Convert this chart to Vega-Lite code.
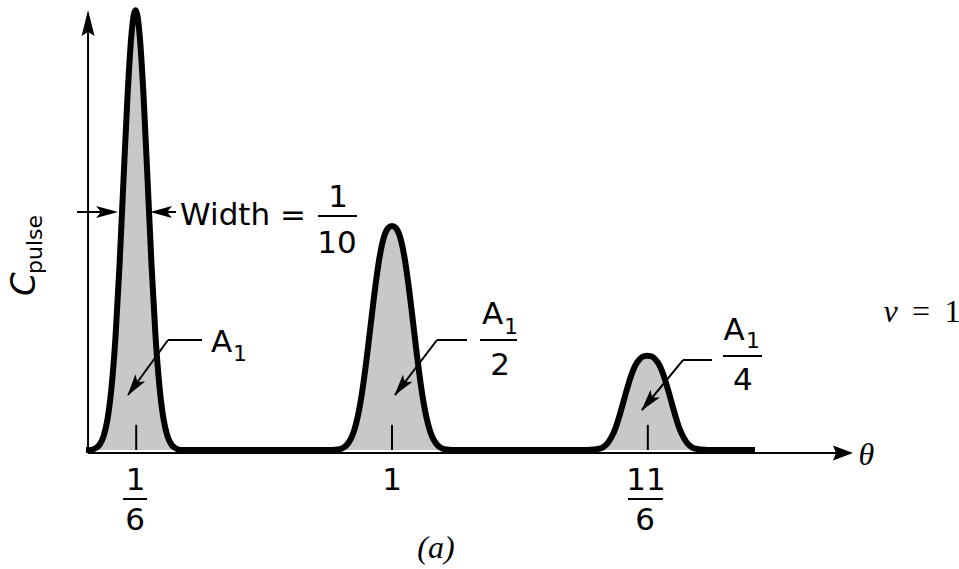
{
  "$schema": "https://vega.github.io/schema/vega-lite/v6.json",
  "width": 959,
  "height": 569,
  "autosize": {"type": "none"},
  "padding": 0,
  "background": "white",
  "config": {"view": {"stroke": null}},
  "datasets": {
    "pulse": [
      {"theta": 0.003, "c": 0},
      {"theta": 0.0147, "c": 0},
      {"theta": 0.0342, "c": 0.004},
      {"theta": 0.0472, "c": 0.012},
      {"theta": 0.0603, "c": 0.031},
      {"theta": 0.0733, "c": 0.070},
      {"theta": 0.0863, "c": 0.142},
      {"theta": 0.0994, "c": 0.257},
      {"theta": 0.1124, "c": 0.419},
      {"theta": 0.1254, "c": 0.612},
      {"theta": 0.1384, "c": 0.801},
      {"theta": 0.1515, "c": 0.942},
      {"theta": 0.1580, "c": 0.982},
      {"theta": 0.1645, "c": 0.995},
      {"theta": 0.1710, "c": 0.982},
      {"theta": 0.1775, "c": 0.942},
      {"theta": 0.1906, "c": 0.801},
      {"theta": 0.2036, "c": 0.612},
      {"theta": 0.2166, "c": 0.419},
      {"theta": 0.2296, "c": 0.257},
      {"theta": 0.2427, "c": 0.142},
      {"theta": 0.2557, "c": 0.070},
      {"theta": 0.2687, "c": 0.031},
      {"theta": 0.2818, "c": 0.012},
      {"theta": 0.2948, "c": 0.004},
      {"theta": 0.3143, "c": 0},
      {"theta": 0.8046, "c": 0},
      {"theta": 0.8241, "c": 0.001},
      {"theta": 0.8436, "c": 0.006},
      {"theta": 0.8567, "c": 0.015},
      {"theta": 0.8697, "c": 0.031},
      {"theta": 0.8827, "c": 0.059},
      {"theta": 0.8958, "c": 0.102},
      {"theta": 0.9088, "c": 0.161},
      {"theta": 0.9218, "c": 0.232},
      {"theta": 0.9349, "c": 0.309},
      {"theta": 0.9479, "c": 0.382},
      {"theta": 0.9609, "c": 0.442},
      {"theta": 0.9739, "c": 0.482},
      {"theta": 0.9870, "c": 0.502},
      {"theta": 1.0, "c": 0.507},
      {"theta": 1.0130, "c": 0.502},
      {"theta": 1.0261, "c": 0.482},
      {"theta": 1.0391, "c": 0.442},
      {"theta": 1.0521, "c": 0.382},
      {"theta": 1.0651, "c": 0.309},
      {"theta": 1.0782, "c": 0.232},
      {"theta": 1.0912, "c": 0.161},
      {"theta": 1.1042, "c": 0.102},
      {"theta": 1.1173, "c": 0.059},
      {"theta": 1.1303, "c": 0.031},
      {"theta": 1.1433, "c": 0.015},
      {"theta": 1.1564, "c": 0.006},
      {"theta": 1.1759, "c": 0.001},
      {"theta": 1.1954, "c": 0},
      {"theta": 1.6366, "c": 0},
      {"theta": 1.6561, "c": 0.001},
      {"theta": 1.6756, "c": 0.003},
      {"theta": 1.6887, "c": 0.007},
      {"theta": 1.7017, "c": 0.015},
      {"theta": 1.7147, "c": 0.029},
      {"theta": 1.7278, "c": 0.049},
      {"theta": 1.7408, "c": 0.077},
      {"theta": 1.7538, "c": 0.109},
      {"theta": 1.7669, "c": 0.141},
      {"theta": 1.7799, "c": 0.170},
      {"theta": 1.7929, "c": 0.192},
      {"theta": 1.8059, "c": 0.205},
      {"theta": 1.8190, "c": 0.212},
      {"theta": 1.8320, "c": 0.213},
      {"theta": 1.8450, "c": 0.212},
      {"theta": 1.8581, "c": 0.205},
      {"theta": 1.8711, "c": 0.192},
      {"theta": 1.8841, "c": 0.170},
      {"theta": 1.8971, "c": 0.141},
      {"theta": 1.9102, "c": 0.109},
      {"theta": 1.9232, "c": 0.077},
      {"theta": 1.9362, "c": 0.049},
      {"theta": 1.9493, "c": 0.029},
      {"theta": 1.9623, "c": 0.015},
      {"theta": 1.9753, "c": 0.007},
      {"theta": 1.9884, "c": 0.003},
      {"theta": 2.0079, "c": 0.001},
      {"theta": 2.0274, "c": 0},
      {"theta": 2.1824, "c": 0}
    ],
    "segments": [
      {"part": "c axis", "t1": 0.0098, "c1": -0.0068, "t2": 0.0098, "c2": 0.945},
      {"part": "theta axis", "t1": 0.0098, "c1": -0.0068, "t2": 2.45, "c2": -0.0068},
      {"part": "tick 1/6", "t1": 0.1667, "c1": 0, "t2": 0.1667, "c2": 0.057},
      {"part": "tick 1", "t1": 1.0, "c1": 0, "t2": 1.0, "c2": 0.057},
      {"part": "tick 11/6", "t1": 1.8333, "c1": 0, "t2": 1.8333, "c2": 0.057},
      {"part": "width left shaft", "t1": -0.0261, "c1": 0.5385, "t2": 0.0749, "c2": 0.5385},
      {"part": "width right shaft", "t1": 0.2443, "c1": 0.5385, "t2": 0.2964, "c2": 0.5385},
      {"part": "A1 leader", "t1": 0.3811, "c1": 0.2489, "t2": 0.2704, "c2": 0.2489},
      {"part": "A1 leader", "t1": 0.2704, "c1": 0.2489, "t2": 0.1401, "c2": 0.1244},
      {"part": "A1/2 leader", "t1": 1.2443, "c1": 0.2489, "t2": 1.1466, "c2": 0.2489},
      {"part": "A1/2 leader", "t1": 1.1466, "c1": 0.2489, "t2": 1.0098, "c2": 0.1244},
      {"part": "A1/4 leader", "t1": 2.0423, "c1": 0.2036, "t2": 1.9479, "c2": 0.2036},
      {"part": "A1/4 leader", "t1": 1.9479, "c1": 0.2036, "t2": 1.8143, "c2": 0.0905},
      {"part": "bar 1/10", "t1": 0.7590, "c1": 0.5294, "t2": 0.8860, "c2": 0.5294},
      {"part": "bar A1/2", "t1": 1.2866, "c1": 0.2489, "t2": 1.4072, "c2": 0.2489},
      {"part": "bar A1/4", "t1": 2.0782, "c1": 0.2127, "t2": 2.2052, "c2": 0.2127},
      {"part": "bar 1/6", "t1": 0.1238, "c1": -0.1109, "t2": 0.2020, "c2": -0.1109},
      {"part": "bar 11/6", "t1": 1.7687, "c1": -0.1109, "t2": 1.8827, "c2": -0.1109}
    ],
    "pointerHeads": [
      {"theta": 0.0717, "c": 0.5385, "heading": 90},
      {"theta": 0.2475, "c": 0.5385, "heading": 270},
      {"theta": 0.1590, "c": 0.1430, "heading": 216},
      {"theta": 1.0295, "c": 0.1430, "heading": 217.4},
      {"theta": 1.8347, "c": 0.1082, "heading": 219.4}
    ],
    "cAxisHead": [{"theta": 0.0098, "c": 0.9661, "heading": 0}],
    "thetaAxisHead": [{"theta": 2.4691, "c": -0.0068, "heading": 90}],
    "sansLabels": [
      {"text": "Width =", "theta": 0.5147, "c": 0.509},
      {"text": "1", "theta": 0.8241, "c": 0.5498},
      {"text": "10", "theta": 0.8208, "c": 0.4457},
      {"text": "A", "theta": 0.4446, "c": 0.2217},
      {"text": "A", "theta": 1.3274, "c": 0.2851},
      {"text": "2", "theta": 1.3518, "c": 0.1697},
      {"text": "A", "theta": 2.1140, "c": 0.2489},
      {"text": "4", "theta": 2.1433, "c": 0.1357},
      {"text": "1", "theta": 0.1645, "c": -0.0905},
      {"text": "6", "theta": 0.1629, "c": -0.1810},
      {"text": "1", "theta": 1.0, "c": -0.0905},
      {"text": "11", "theta": 1.8274, "c": -0.0905},
      {"text": "6", "theta": 1.8241, "c": -0.1810}
    ],
    "subscripts": [
      {"text": "1", "theta": 0.5049, "c": 0.2020},
      {"text": "1", "theta": 1.3876, "c": 0.2630},
      {"text": "1", "theta": 2.1759, "c": 0.2315}
    ],
    "serifItalic": [
      {"text": "θ", "theta": 2.5456, "c": -0.0339},
      {"text": "v", "theta": 2.6238, "c": 0.2896},
      {"text": "(a)", "theta": 1.1433, "c": -0.2443}
    ],
    "serifUpright": [
      {"text": "=", "theta": 2.7231, "c": 0.2896},
      {"text": "1", "theta": 2.8257, "c": 0.2896}
    ],
    "cSymbol": [{"text": "C", "theta": -0.1629, "c": 0.3484}],
    "cSubscript": [{"text": "pulse", "theta": -0.1401, "c": 0.3982}]
  },
  "encoding": {
    "x": {"field": "theta", "type": "quantitative", "axis": null,
          "scale": {"domain": [-0.277, 2.847], "nice": false, "zero": false}},
    "y": {"field": "c", "type": "quantitative", "axis": null,
          "scale": {"domain": [-0.2692, 1.0181], "nice": false, "zero": false}}
  },
  "layer": [
    {
      "data": {"name": "pulse"},
      "mark": {"type": "area", "interpolate": "monotone", "color": "#c8c8c8"},
      "encoding": {"y2": {"datum": 0}}
    },
    {
      "data": {"name": "segments"},
      "mark": {"type": "rule", "color": "black", "strokeWidth": 2},
      "encoding": {
        "x": {"field": "t1", "type": "quantitative"},
        "x2": {"field": "t2"},
        "y": {"field": "c1", "type": "quantitative"},
        "y2": {"field": "c2"}
      }
    },
    {
      "data": {"name": "pulse"},
      "mark": {"type": "line", "interpolate": "monotone", "color": "black",
               "strokeWidth": 6, "strokeJoin": "round", "strokeCap": "butt"},
      "encoding": {}
    },
    {
      "data": {"name": "pointerHeads"},
      "mark": {"type": "point", "filled": true, "color": "black", "opacity": 1,
               "size": 484, "shape": "M0,-1L0.55,1L0,0.55L-0.55,1Z"},
      "encoding": {"angle": {"field": "heading", "type": "quantitative", "scale": null}}
    },
    {
      "data": {"name": "cAxisHead"},
      "mark": {"type": "point", "filled": true, "color": "black", "opacity": 1,
               "size": 676, "shape": "M0,-1L0.5,1L0,0.7L-0.5,1Z"},
      "encoding": {"angle": {"field": "heading", "type": "quantitative", "scale": null}}
    },
    {
      "data": {"name": "thetaAxisHead"},
      "mark": {"type": "point", "filled": true, "color": "black", "opacity": 1,
               "size": 400, "shape": "M0,-1L0.75,1L0,0.7L-0.75,1Z"},
      "encoding": {"angle": {"field": "heading", "type": "quantitative", "scale": null}}
    },
    {
      "data": {"name": "sansLabels"},
      "mark": {"type": "text", "font": "DejaVu Sans", "fontSize": 31, "color": "black",
               "align": "center", "baseline": "alphabetic"},
      "encoding": {"text": {"field": "text"}}
    },
    {
      "data": {"name": "subscripts"},
      "mark": {"type": "text", "font": "DejaVu Sans", "fontSize": 22, "color": "black",
               "align": "center", "baseline": "alphabetic"},
      "encoding": {"text": {"field": "text"}}
    },
    {
      "data": {"name": "serifItalic"},
      "mark": {"type": "text", "font": "Liberation Serif", "fontStyle": "italic", "fontSize": 32,
               "color": "black", "align": "center", "baseline": "alphabetic"},
      "encoding": {"text": {"field": "text"}}
    },
    {
      "data": {"name": "serifUpright"},
      "mark": {"type": "text", "font": "Liberation Serif", "fontSize": 32, "color": "black",
               "align": "center", "baseline": "alphabetic"},
      "encoding": {"text": {"field": "text"}}
    },
    {
      "data": {"name": "cSymbol"},
      "mark": {"type": "text", "font": "DejaVu Sans", "fontStyle": "italic", "fontSize": 34,
               "color": "black", "angle": 270, "align": "left", "baseline": "alphabetic"},
      "encoding": {"text": {"field": "text"}}
    },
    {
      "data": {"name": "cSubscript"},
      "mark": {"type": "text", "font": "DejaVu Sans", "fontSize": 22, "color": "black",
               "angle": 270, "align": "left", "baseline": "alphabetic"},
      "encoding": {"text": {"field": "text"}}
    }
  ]
}
